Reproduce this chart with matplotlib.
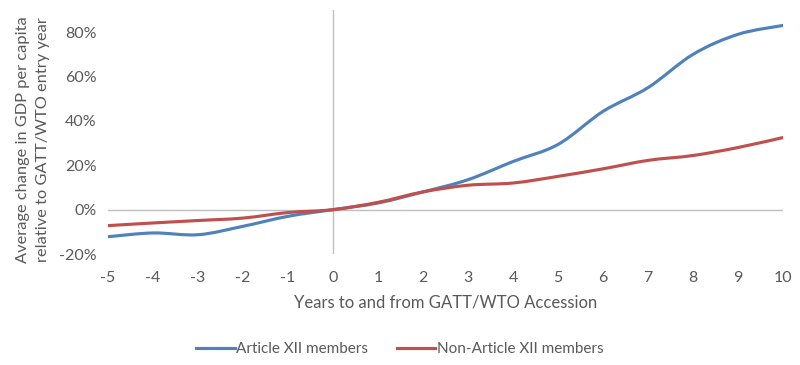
import matplotlib
matplotlib.use("Agg")
import matplotlib.pyplot as plt
from matplotlib.path import Path
from matplotlib.patches import PathPatch
from matplotlib.lines import Line2D
from matplotlib.ticker import PercentFormatter

years = [-5, -4, -3, -2, -1, 0, 1, 2, 3, 4, 5, 6, 7, 8, 9, 10]
article_xii = [-12.2, -10.5, -11.3, -7.5, -3.0, 0.0, 3.0, 8.0, 13.5, 21.7, 29.4, 44.3, 55.0, 70.0, 79.0, 83.0]
non_article_xii = [-7.2, -6.0, -4.9, -3.8, -1.3, 0.0, 3.3, 8.0, 11.0, 12.0, 15.0, 18.4, 22.2, 24.4, 28.0, 32.5]
series_names = ["Article XII members", "Non-Article XII members"]
colors = ["#4F81BD", "#C0504D"]

plt.rcParams['font.family'] = ['Lato', 'DejaVu Sans']
plt.rcParams['axes.unicode_minus'] = False
gray = "#595959"

fig = plt.figure(figsize=(8, 3.65), dpi=100)
ax = fig.add_axes([0.135, 0.304, 0.844, 0.669])


def smooth_path(xs, ys):
    pts = list(zip(xs, ys))
    verts = [pts[0]]
    codes = [Path.MOVETO]
    n = len(pts)
    for i in range(n - 1):
        p0 = pts[i - 1] if i > 0 else pts[i]
        p1 = pts[i]
        p2 = pts[i + 1]
        p3 = pts[i + 2] if i + 2 < n else pts[i + 1]
        c1 = (p1[0] + (p2[0] - p0[0]) / 6, p1[1] + (p2[1] - p0[1]) / 6)
        c2 = (p2[0] - (p3[0] - p1[0]) / 6, p2[1] - (p3[1] - p1[1]) / 6)
        verts += [c1, c2, p2]
        codes += [Path.CURVE4] * 3
    return Path(verts, codes)


ax.axhline(0, color="#bfbfbf", lw=1, zorder=1)
ax.axvline(0, color="#bfbfbf", lw=1, zorder=1)

for vals, c in zip([article_xii, non_article_xii], colors):
    patch = PathPatch(smooth_path(years, vals), facecolor="none", edgecolor=c,
                      lw=2.25, capstyle="round", joinstyle="round", zorder=3)
    ax.add_patch(patch)

ax.set_xlim(-5, 10)
ax.set_ylim(-20, 90)
ax.set_xticks(years)
ax.set_yticks([-20, 0, 20, 40, 60, 80])
ax.yaxis.set_major_formatter(PercentFormatter(decimals=0))
for s in ax.spines.values():
    s.set_visible(False)
ax.tick_params(length=0, labelsize=11.5, labelcolor=gray)
ax.tick_params(axis="x", pad=12)
ax.tick_params(axis="y", pad=8)

ax.set_xlabel("Years to and from GATT/WTO Accession", fontsize=12, color=gray, labelpad=7)
ax.set_ylabel("Average change in GDP per capita\nrelative to GATT/WTO entry year",
              fontsize=11.8, color=gray, linespacing=1.5, va="center")
ax.yaxis.set_label_coords(-0.111, 0.47)

handles = [Line2D([], [], color=c, lw=2.25) for c in colors]
fig.legend(handles, series_names, loc="center", bbox_to_anchor=(0.5, 0.043), ncol=2,
           frameon=False, fontsize=11, labelcolor=gray, handlelength=2.5,
           handletextpad=0.1, columnspacing=1.9)

fig.savefig("out.png", dpi=100, facecolor="white")
